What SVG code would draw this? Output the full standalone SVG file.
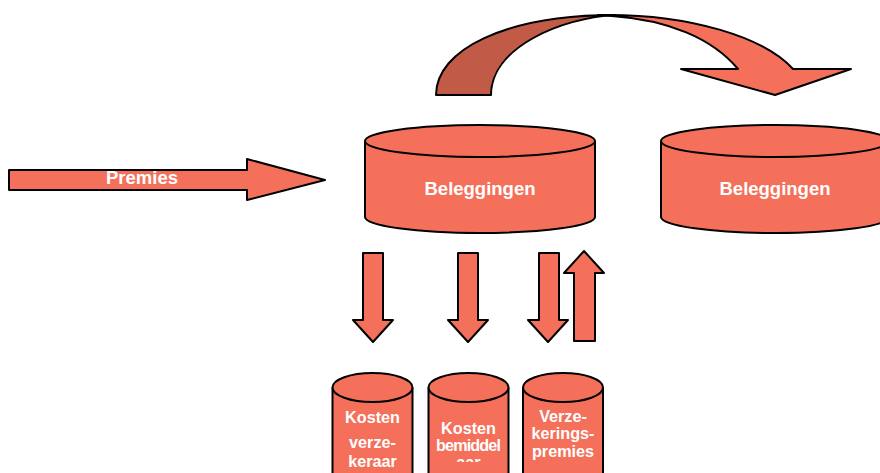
<svg xmlns="http://www.w3.org/2000/svg" width="880" height="473" viewBox="0 0 880 473">
<style>
.s{fill:#F4705A;stroke:#000;stroke-width:2;stroke-linejoin:round}
.d{fill:#C25A48;stroke:#000;stroke-width:2;stroke-linejoin:round}
.t{font-family:"Liberation Sans",Arial,sans-serif;font-weight:bold;fill:#fff;text-anchor:middle}
.big{font-size:18.5px}
.sm{font-size:16.2px}
</style>
<defs>
<clipPath id="clipDash"><rect x="420" y="450" width="100" height="12"/></clipPath>
</defs>
<rect width="880" height="473" fill="#fff"/>
<g id="connectors">
  <g id="curved-arrow">
    <path class="s" d="M598,15 C690,13 765,38 793,69 L851,69 L775,95 L681,69 L738,69 C712,38 668,20 612,16 Z"/>
    <path class="d" d="M436,95 C436,50 505,15 615,15 C560,18 491,48 491,95 Z"/>
  </g>
  <g id="premies-arrow">
    <path class="s" d="M9,170 L247,170 L247,159 L325,180 L247,200 L247,190 L9,190 Z"/>
    <text class="t big" x="142" y="184">Premies</text>
  </g>
  <path class="s" d="M363,253 L383,253 L383,320 L393,320 L373,342 L353,320 L363,320 Z"/>
  <path class="s" d="M458,253 L478,253 L478,320 L488,320 L468,342 L448,320 L458,320 Z"/>
  <path class="s" d="M539,253 L559,253 L559,320 L568,320 L548,342 L528,320 L539,320 Z"/>
  <path class="s" d="M574,341 L595,341 L595,273 L604,273 L584,251 L564,273 L574,273 Z"/>
</g>
<g id="beleggingen1">
  <path class="s" d="M365,141 L365,217 A115,16 0 0 0 595,217 L595,141"/>
  <ellipse class="s" cx="480" cy="141" rx="115" ry="16"/>
  <text class="t big" x="480" y="195">Beleggingen</text>
</g>
<g id="beleggingen2">
  <path class="s" d="M661,141 L661,217 A114,16 0 0 0 889,217 L889,141"/>
  <ellipse class="s" cx="775" cy="141" rx="114" ry="16"/>
  <text class="t big" x="775" y="195">Beleggingen</text>
</g>
<g id="kosten-verzekeraar">
  <path class="s" d="M332.5,387.5 L332.5,480 L412.5,480 L412.5,387.5"/>
  <ellipse class="s" cx="372.5" cy="387.5" rx="40" ry="14.5"/>
  <text class="t sm" x="372.5" y="423">Kosten</text>
  <text class="t sm" x="372.5" y="448">verze-</text>
  <text class="t sm" x="372.5" y="467">keraar</text>
</g>
<g id="kosten-bemiddelaar">
  <path class="s" d="M428.5,387.5 L428.5,480 L508.5,480 L508.5,387.5"/>
  <ellipse class="s" cx="468.5" cy="387.5" rx="40" ry="14.5"/>
  <text class="t sm" x="468.5" y="434">Kosten</text>
  <text class="t sm" x="468.5" y="451" textLength="65" lengthAdjust="spacing">bemiddel</text>
  <text class="t sm" x="468.5" y="468" clip-path="url(#clipDash)">aar</text>
</g>
<g id="verzekeringspremies">
  <path class="s" d="M523,387.5 L523,480 L603,480 L603,387.5"/>
  <ellipse class="s" cx="563" cy="387.5" rx="40" ry="14.5"/>
  <text class="t sm" x="563" y="422">Verze-</text>
  <text class="t sm" x="563" y="439">kerings-</text>
  <text class="t sm" x="563" y="457">premies</text>
</g>
</svg>
